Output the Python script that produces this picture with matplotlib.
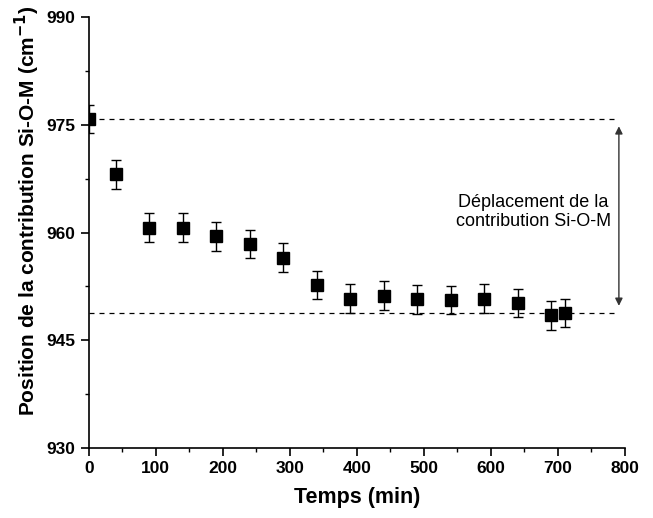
import numpy as np
import matplotlib.pyplot as plt
from matplotlib.ticker import MultipleLocator

plt.rcParams['font.family'] = ['Liberation Sans', 'DejaVu Sans']

# donnees
temps = [0, 40, 90, 140, 190, 240, 290, 340, 390, 440, 490, 540, 590, 640, 690, 710]
position = [975.8, 968.1, 960.7, 960.7, 959.5, 958.4, 956.5, 952.7, 950.8, 951.2,
            950.7, 950.6, 950.8, 950.2, 948.5, 948.8]
erreur = [2.0] * len(temps)

niveau_haut = 975.8
niveau_bas = 948.8
x_fleche = 791

fig = plt.figure(figsize=(6.53, 5.18), dpi=100)
ax = fig.add_axes([0.136, 0.135, 0.821, 0.832])

ax.errorbar(temps, position, yerr=erreur, fmt='s', color='black', markersize=8,
            ecolor='black', elinewidth=1.0, capsize=3.5, capthick=1.0, zorder=3)

ax.plot([0, x_fleche], [niveau_haut, niveau_haut], ls=(0, (4, 4)), color='black', lw=0.9)
ax.plot([0, x_fleche], [niveau_bas, niveau_bas], ls=(0, (4, 4)), color='black', lw=0.9)
ax.annotate('', xy=(x_fleche, niveau_haut - 1.0), xytext=(x_fleche, niveau_bas + 1.0),
            arrowprops=dict(arrowstyle='<|-|>', color='#333333', lw=1.0,
                            mutation_scale=11, shrinkA=0, shrinkB=0))
ax.text(663, 962.8, 'Déplacement de la\ncontribution Si-O-M', ha='center', va='center',
        multialignment='center', fontsize=13, linespacing=1.15)

ax.set_xlim(0, 800)
ax.set_ylim(930, 990)
ax.xaxis.set_major_locator(MultipleLocator(100))
ax.xaxis.set_minor_locator(MultipleLocator(50))
ax.yaxis.set_major_locator(MultipleLocator(15))
ax.yaxis.set_minor_locator(MultipleLocator(7.5))

for s in ['top', 'right']:
    ax.spines[s].set_visible(False)
for s in ['left', 'bottom']:
    ax.spines[s].set_linewidth(1.2)

ax.tick_params(which='major', direction='out', length=6, width=1.2, labelsize=12.5)
ax.tick_params(which='minor', direction='out', length=3, width=1.0)
for lab in ax.get_xticklabels() + ax.get_yticklabels():
    lab.set_fontweight('bold')

ax.set_xlabel('Temps (min)', fontsize=15.5, fontweight='bold', labelpad=8)
ax.set_ylabel('Position de la contribution Si-O-M (cm$^{\\mathbf{-1}}$)', fontsize=15,
              fontweight='bold')
ax.yaxis.set_label_coords(-0.087, 0.55)

fig.savefig('out.png', dpi=100)
